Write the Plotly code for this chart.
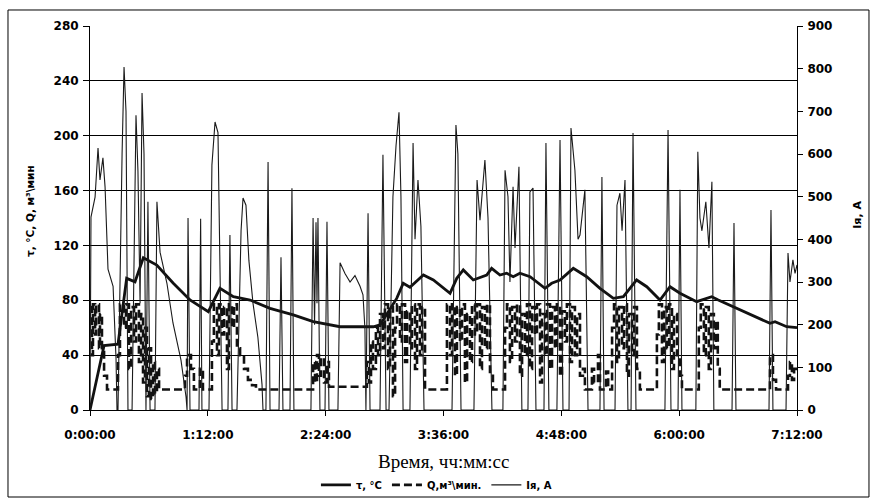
import plotly.graph_objects as go

# ---- data (time in minutes from start) ----
tau_t = [0, 7.9, 8.6, 17.1, 22.4, 27.5, 32.6, 40.8, 50.9, 61.1, 72.3, 79.4, 87.6, 97.8,
         110.0, 124.2, 136.4, 152.8, 173.1, 177.2, 187.4, 191.4, 195.5, 203.7, 209.8,
         220.0, 224.1, 228.1, 234.2, 242.4, 245.4, 250.5, 254.6, 258.6, 262.7, 268.9,
         278.0, 282.1, 287.2, 295.3, 303.5, 311.6, 319.8, 325.9, 334.0, 340.2, 348.3,
         354.4, 360.5, 370.7, 379.9, 383.9, 395.2, 415.5, 418.6, 425.7, 432]
tau_v = [0, 42, 47, 48, 96, 93.5, 111, 105.7, 92.4, 80.2, 71.7, 88.7, 82.6, 80.2,
         74.1, 69.3, 64.4, 60.7, 60.7, 62, 81.4, 92.4, 89.5, 98.4, 94.8,
         85.1, 96, 102.1, 94.8, 98.4, 103.3, 98.4, 99.7, 97.2, 99.7, 97.2,
         88.7, 92.4, 94.8, 103.3, 97.2, 88.7, 81.4, 82.6, 94.8, 89.9, 80.2,
         89.9, 85.1, 79.0, 82.6, 80.2, 74.1, 63.2, 64.4, 60.7, 60]

q_t = [0, 1.2, 1.8, 3.1, 3.7, 5.5, 6.1, 7.3, 8.6, 10.4,
       17.1, 18.3, 20.8, 22.0, 23.8, 25.1, 26.9, 28.1, 29.9, 31.2, 32.4, 33.6, 34.8, 36.0, 37.3, 38.5, 39.7, 40.9, 42.2,
       58.0, 59.3, 61.7, 63.5, 67.2, 69.0,
       74.5, 75.7, 77.6, 78.8, 80.7, 81.9, 83.7, 84.9, 86.8, 88.0, 89.8, 91.7, 94.1, 96.5, 99.0, 101.4,
       136.3, 137.5, 138.7, 139.9, 141.1, 143.0, 144.8, 146.0,
       169.2, 170.4, 171.7, 172.9, 174.7, 176.0, 177.2, 179.0, 180.2, 182.1, 183.3, 185.1, 186.4, 187.6,
       189.4, 190.6, 192.5, 193.7, 195.5, 196.7, 198.6, 199.8, 201.6, 202.9, 204.7,
       218.1, 220.0, 221.2, 223.0, 224.2, 226.1, 227.3, 229.1, 230.4, 232.2, 233.4, 235.2, 236.5, 238.3,
       239.5, 241.3, 242.6, 244.4, 246.2,
       253.6, 254.8, 256.6, 257.9, 259.7, 260.9, 262.7, 264.0, 265.8, 267.0, 268.8, 270.1, 271.9, 273.1,
       275.0, 276.2, 278.0, 279.2, 281.1, 282.3, 284.1, 285.3, 287.2, 288.4, 290.2, 291.4, 293.3, 294.5,
       296.3, 297.6, 299.4, 301.2, 302.4,
       306.7, 308.0, 310.4, 311.6, 315.3, 316.6,
       319.0, 320.2, 322.0, 323.2, 325.1, 326.3, 328.1, 329.3, 331.2, 332.4, 334.2, 336.0,
       346.4, 347.6, 349.5, 350.7, 352.5, 353.8, 355.6, 356.8, 358.7, 360.5, 361.7,
       372.0, 373.2, 375.1, 376.3, 378.1, 379.4, 381.2, 382.4, 383.6, 384.8,
       415.5, 417.3, 419.2,
       426.5, 427.7, 428.9, 430.2, 432]
q_v = [75, 40, 77, 55, 77, 45, 70, 45, 25, 15,
       40, 77, 60, 77, 30, 75, 50, 77, 35, 70, 20, 60, 10, 45, 8, 35, 12, 30, 15,
       25, 40, 30, 15, 30, 15,
       50, 77, 40, 77, 55, 75, 30, 77, 60, 77, 45, 40, 30, 22, 18, 15,
       35, 20, 40, 25, 38, 20, 35, 17,
       35, 20, 50, 30, 60, 40, 70, 45, 77, 30, 75, 10, 60, 77,
       50, 77, 35, 72, 45, 77, 30, 77, 40, 75, 15,
       77, 40, 77, 25, 75, 50, 77, 20, 70, 35, 77, 55, 77, 30,
       75, 45, 77, 25, 15,
       60, 77, 35, 75, 50, 77, 25, 70, 40, 77, 30, 75, 55, 77,
       20, 70, 40, 77, 30, 75, 45, 77, 25, 72, 50, 77, 35, 75,
       40, 70, 25, 30, 15,
       30, 20, 40, 15, 28, 15,
       60, 77, 35, 75, 45, 77, 25, 70, 40, 75, 30, 15,
       55, 77, 35, 75, 45, 77, 30, 70, 40, 25, 15,
       60, 77, 40, 75, 30, 70, 45, 65, 30, 15,
       40, 22, 15,
       25, 35, 22, 30, 28]

i_t = [0, 0.6, 3.1, 4.9, 6.1, 7.9, 9.2, 11.0, 14.1, 15.9, 16.5,
       17.1, 19.6, 20.8, 22.0, 23.2,
       25.7, 28.1, 29.3, 30.6, 31.8, 33.0, 34.2, 35.4, 36.7,
       39.7, 40.9, 42.8, 47.0, 50.7, 55.6, 58.7, 59.3, 59.9, 61.1,
       66.6, 67.6, 68.4,
       72.7, 74.5, 76.4, 78.2, 80.7,
       84.3, 85.5, 86.8,
       89.8, 92.3, 93.5, 95.3, 97.1, 99.6, 102.6, 105.1, 105.7,
       107.5, 108.8, 110.0,
       115.5, 116.7, 117.9,
       122.2, 123.4, 124.6,
       135.0, 136.3, 137.2, 138.1, 138.7, 139.3, 140.5,
       143.6, 144.8, 146.0,
       151.5, 152.8, 155.8, 158.9, 161.9, 165.0, 166.8, 168.0, 168.6, 169.9, 171.1,
       177.2, 179.0, 180.9,
       182.7, 185.1, 187.0, 188.8, 190.0, 191.3,
       195.5, 197.4, 198.6, 200.4, 202.2, 204.1,
       221.2, 223.6, 224.8, 226.7,
       234.6, 236.5, 238.3, 241.3, 243.2, 245.6,
       252.3, 253.6, 255.4, 256.6, 258.5, 259.7, 262.1, 263.9,
       267.6, 268.8, 270.7, 272.5,
       277.4, 278.6, 280.4,
       285.3, 287.2, 289.0,
       292.7, 293.9, 296.3, 298.2, 299.4, 302.4, 304.3,
       311.6, 312.8, 314.1,
       320.8, 322.0, 323.8, 325.1, 326.9, 328.7,
       330.6, 331.8, 333.6,
       351.3, 353.2, 355.0,
       359.3, 360.5, 361.7,
       370.2, 371.4, 372.7, 373.9, 376.3, 378.2, 380.0, 381.2,
       392.3, 393.5, 394.7,
       414.9, 416.1, 417.3,
       425.3, 426.5, 427.7, 429.5, 430.8, 432]
i_v = [0, 452, 499, 614, 539, 591, 523, 330, 290, 120, 0,
       0, 600, 804, 700, 0,
       0, 691, 560, 250, 743, 600, 0, 488, 0,
       0, 488, 370, 297, 204, 117, 30, 0, 450, 0,
       0, 448, 0,
       0, 574, 675, 650, 0,
       0, 410, 0,
       0, 420, 497, 480, 350, 250, 170, 60, 0,
       0, 581, 0,
       0, 358, 0,
       0, 520, 0,
       0, 450, 200, 440, 250, 450, 0,
       0, 441, 0,
       0, 345, 320, 300, 315, 290, 270, 190, 0, 461, 0,
       0, 598, 0,
       0, 500, 620, 698, 500, 0,
       0, 626, 400, 539, 430, 0,
       0, 668, 600, 0,
       0, 539, 445, 586, 450, 0,
       0, 562, 500, 300, 523, 380, 570, 0,
       0, 511, 520, 0,
       0, 626, 0,
       0, 633, 0,
       0, 661, 562, 400, 410, 516, 0,
       0, 546, 0,
       0, 480, 508, 420, 539, 0,
       0, 649, 0,
       0, 656, 0,
       0, 516, 0,
       0, 605, 450, 420, 488, 380, 535, 0,
       0, 438, 0,
       0, 469, 0,
       0, 368, 300, 352, 320, 340]

x_ticks = [0, 72, 144, 216, 288, 360, 432]
x_ticktext = ["0:00:00", "1:12:00", "2:24:00", "3:36:00", "4:48:00", "6:00:00", "7:12:00"]
y_left_ticks = [0, 40, 80, 120, 160, 200, 240, 280]
y_right_ticks = [0, 100, 200, 300, 400, 500, 600, 700, 800, 900]

FONT = "DejaVu Sans"

fig = go.Figure()
fig.add_trace(go.Scatter(x=tau_t, y=tau_v, mode="lines", name="τ, °C",
                         line=dict(color="#111111", width=2.8)))
fig.add_trace(go.Scatter(x=q_t, y=q_v, mode="lines", name="Q,м³\\мин.",
                         line=dict(color="#111111", width=2.6, dash="8px,4px", shape="hv")))
fig.add_trace(go.Scatter(x=i_t, y=i_v, mode="lines", name="Iя, A", yaxis="y2",
                         line=dict(color="#1a1a1a", width=1.1)))

fig.update_layout(
    width=876, height=499,
    margin=dict(l=90, r=79, t=26, b=89, autoexpand=False),
    paper_bgcolor="white", plot_bgcolor="white",
    font=dict(family=FONT, color="black", size=12),
    showlegend=True,
    legend=dict(orientation="h", x=0.49, xanchor="center", y=-0.195, yanchor="middle",
                font=dict(family=FONT, size=10, weight="bold"), itemwidth=30,
                bgcolor="rgba(0,0,0,0)"),
    xaxis=dict(range=[0, 432], tickvals=x_ticks, ticktext=x_ticktext, automargin=False,
               showgrid=False, zeroline=False, showline=True, linecolor="black", linewidth=1,
               ticks="outside", ticklen=5, tickcolor="black", ticklabelstandoff=9,
               tickfont=dict(family=FONT, size=12, weight="bold")),
    yaxis=dict(range=[0, 280], tickvals=y_left_ticks, showgrid=True, gridcolor="black",
               automargin=False,
               gridwidth=1, zeroline=False, showline=True, linecolor="black", linewidth=1,
               ticks="outside", ticklen=6, tickcolor="black", ticklabelstandoff=2,
               tickfont=dict(family=FONT, size=12, weight="bold")),
    yaxis2=dict(range=[0, 900], tickvals=y_right_ticks, overlaying="y", side="right",
                automargin=False,
                showgrid=False, zeroline=False, showline=True, linecolor="black", linewidth=1,
                ticks="outside", ticklen=5, tickcolor="black", ticklabelstandoff=2,
                tickfont=dict(family=FONT, size=12, weight="bold")),
    annotations=[
        dict(text="τ, °C, Q, м³\\мин", xref="paper", yref="paper", x=-0.085, y=0.518,
             textangle=-90, showarrow=False, font=dict(family=FONT, size=10.5, weight="bold"),
             xanchor="center", yanchor="middle"),
        dict(text="Iя, A", xref="paper", yref="paper", x=1.086, y=0.508,
             textangle=-90, showarrow=False, font=dict(family=FONT, size=11, weight="bold"),
             xanchor="center", yanchor="middle"),
        dict(text="Время, чч:мм:сс", xref="paper", yref="paper", x=0.5, y=-0.135,
             showarrow=False, font=dict(family="Liberation Serif", size=19),
             xanchor="center", yanchor="middle"),
    ],
    shapes=[dict(type="rect", xref="paper", yref="paper", x0=-0.116, x1=1.1018,
                 y0=-0.2266, y1=1.0417, line=dict(color="black", width=1), layer="below")],
)

fig.write_html("out.html")
